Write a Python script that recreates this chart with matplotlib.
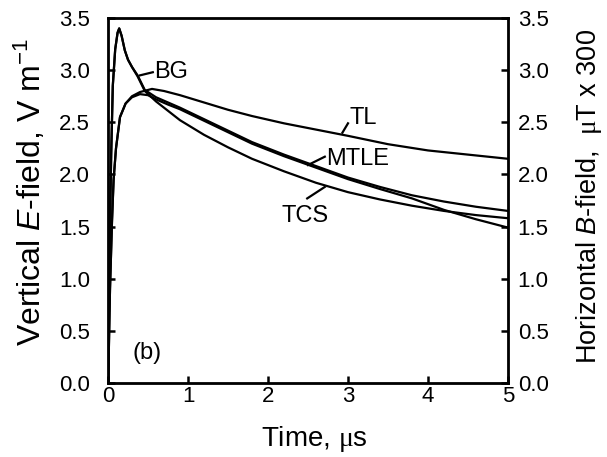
import matplotlib
matplotlib.use("Agg")
import matplotlib.pyplot as plt
import numpy as np

plt.rcParams['font.family'] = ['Liberation Sans', 'DejaVu Sans']
plt.rcParams['mathtext.fontset'] = 'custom'
plt.rcParams['mathtext.rm'] = 'Liberation Sans'
plt.rcParams['mathtext.it'] = 'Liberation Sans:italic'
plt.rcParams['mathtext.tt'] = 'Liberation Serif'

# ---- data ----
t_tl = [0, 0.01, 0.025, 0.05, 0.07, 0.1, 0.15, 0.22, 0.3, 0.4, 0.55, 0.7, 0.9,
        1.2, 1.5, 1.8, 2.2, 2.6, 3.0, 3.5, 4.0, 4.5, 5.0]
v_tl = [0, 0.3, 0.9, 1.55, 1.95, 2.25, 2.55, 2.68, 2.75, 2.79, 2.82, 2.80, 2.76,
        2.69, 2.62, 2.56, 2.49, 2.43, 2.37, 2.29, 2.23, 2.19, 2.15]

t_mtle = [0, 0.01, 0.025, 0.05, 0.07, 0.1, 0.15, 0.22, 0.3, 0.4, 0.5, 0.6, 0.75,
          0.9, 1.2, 1.5, 1.8, 2.2, 2.6, 3.0, 3.4, 3.8, 4.2, 4.6, 5.0]
v_mtle = [0, 0.3, 0.9, 1.55, 1.95, 2.25, 2.55, 2.68, 2.74, 2.77, 2.76, 2.72, 2.67,
          2.625, 2.515, 2.405, 2.295, 2.175, 2.065, 1.955, 1.86, 1.77, 1.66, 1.57, 1.49]

t_bg = [0, 0.01, 0.02, 0.04, 0.06, 0.09, 0.12, 0.14, 0.17, 0.21, 0.25, 0.3, 0.37,
        0.46, 0.6, 0.75, 0.9, 1.2, 1.5, 1.8, 2.2, 2.6, 3.0, 3.4, 3.8, 4.2, 4.6, 5.0]
v_bg = [0, 0.6, 1.3, 2.2, 2.85, 3.2, 3.36, 3.40, 3.33, 3.19, 3.10, 3.03, 2.95,
        2.81, 2.74, 2.69, 2.64, 2.53, 2.42, 2.31, 2.19, 2.08, 1.97, 1.88, 1.80, 1.74, 1.69, 1.65]

t_tcs = [0, 0.01, 0.02, 0.04, 0.06, 0.09, 0.12, 0.14, 0.17, 0.21, 0.25, 0.3, 0.37,
         0.46, 0.6, 0.75, 0.9, 1.2, 1.5, 1.8, 2.2, 2.6, 3.0, 3.4, 3.8, 4.2, 4.6, 5.0]
v_tcs = [0, 0.6, 1.3, 2.2, 2.85, 3.2, 3.36, 3.40, 3.33, 3.19, 3.10, 3.03, 2.94,
         2.80, 2.70, 2.61, 2.52, 2.38, 2.26, 2.15, 2.03, 1.92, 1.83, 1.76, 1.70, 1.65, 1.61, 1.58]

x_ticks = [0, 1, 2, 3, 4, 5]
y_ticks = [0.0, 0.5, 1.0, 1.5, 2.0, 2.5, 3.0, 3.5]

fig = plt.figure(figsize=(6.07, 4.57), dpi=100)
ax = fig.add_axes([108/607, 1-383/457, 400/607, 365/457])

lw = 1.6
for t, v in [(t_tl, v_tl), (t_mtle, v_mtle), (t_bg, v_bg), (t_tcs, v_tcs)]:
    ax.plot(t, v, color='black', lw=lw, solid_joinstyle='round')

ax.set_xlim(0, 5)
ax.set_ylim(0, 3.5)
ax.set_xticks(x_ticks)
ax.set_yticks(y_ticks)
ax.set_yticklabels([f"{y:.1f}" for y in y_ticks])
for s in ax.spines.values():
    s.set_linewidth(2.0)
ax.tick_params(direction='in', length=5, width=1.8, labelsize=16)
ax.tick_params(axis='y', pad=13)
ax.tick_params(axis='x', pad=2)

ax2 = ax.twinx()
ax2.set_ylim(0, 3.5)
ax2.set_yticks(y_ticks)
ax2.set_yticklabels([f"{y:.1f}" for y in y_ticks])
ax2.tick_params(direction='in', length=5, width=1.8, labelsize=16, pad=7)

ax.set_xlabel(r'Time, $\mathtt{\mu}$s', fontsize=20)
ax.xaxis.set_label_coords(0.517, -0.112)
ax.set_ylabel(r'Vertical $E$-field, V m$^{-1}$', fontsize=23)
ax.yaxis.set_label_coords(-0.15, 0.523)
ax2.set_ylabel(r'Horizontal $B$-field,  $\mathtt{\mu}$T x 300', fontsize=19.5)
ax2.yaxis.set_label_coords(1.165, 0.51)

# labels with leaders
fs = 17
ax.plot([0.40, 0.56], [2.95, 2.98], color='black', lw=1.6)
ax.text(0.58, 2.98, 'BG', fontsize=fs, va='center', ha='left')
ax.plot([2.93, 3.0], [2.40, 2.49], color='black', lw=1.6)
ax.text(3.02, 2.54, 'TL', fontsize=fs, va='center', ha='left')
ax.plot([2.5, 2.71], [2.09, 2.17], color='black', lw=1.6)
ax.text(2.73, 2.15, 'MTLE', fontsize=fs, va='center', ha='left')
ax.plot([2.49, 2.71], [1.77, 1.88], color='black', lw=1.6)
ax.text(2.17, 1.60, 'TCS', fontsize=fs, va='center', ha='left')
ax.text(0.30, 0.29, '(b)', fontsize=fs, va='center', ha='left')

fig.savefig('out.png', dpi=100)
